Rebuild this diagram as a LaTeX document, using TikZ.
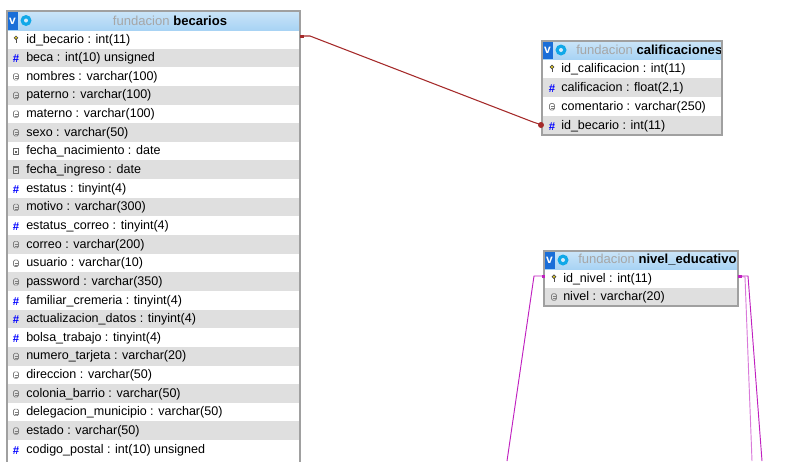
\documentclass[tikz,border=0pt]{standalone}
\usepackage{fontspec}
\setmainfont{Liberation Sans}
\begin{document}
\begin{tikzpicture}[x=0.75pt,y=-0.75pt,font=\fontsize{9.4}{10}\selectfont,
  rowtxt/.style={anchor=west,inner sep=0pt},
  htxt/.style={inner sep=0pt,font=\fontsize{9.8}{10}\selectfont},
  frame/.style={draw=framegray,line width=0.8pt}]
\definecolor{hdrblue}{HTML}{A8D3F4}
\definecolor{vblue}{HTML}{1A6ED8}
\definecolor{framegray}{HTML}{A0A0A0}
\definecolor{rowgray}{HTML}{DFDFDF}
\definecolor{rel}{HTML}{A52A2A}
\definecolor{mag}{HTML}{C020C0}
\useasboundingbox (0,0) rectangle (810,461);
\fill[white] (0,0) rectangle (810,461);
\newcommand{\keyicon}[2]{\draw[black!70,line width=0.5pt,fill=yellow!70!brown] (#1,#2-1.5) circle (1.8); \draw[black!70,line width=0.7pt] (#1,#2) -- (#1,#2+3.5);}
\newcommand{\numicon}[2]{\node[text=blue,inner sep=0pt,font=\fontsize{8.5}{8}\selectfont\bfseries] at (#1,#2+1) {\#};}
\newcommand{\txticon}[2]{\draw[gray,line width=0.5pt,rounded corners=1pt] (#1-2.5,#2-3) rectangle (#1+2.5,#2+3.5); \draw[gray,line width=0.4pt] (#1-1.5,#2) -- (#1+1.5,#2) (#1-1.5,#2+2) -- (#1+1.5,#2+2);}
\newcommand{\dateicon}[2]{\draw[gray!80!black,line width=0.5pt] (#1-2.5,#2-3) rectangle (#1+2.5,#2+3.5); \draw[gray!80!black,line width=0.9pt] (#1-2.5,#2-2.3) -- (#1+2.5,#2-2.3); \fill[gray!80!black] (#1-0.8,#2) rectangle (#1+0.8,#2+1.6);}
\newcommand{\rowicon}[3]{\if#1k\keyicon{#2}{#3}\fi\if#1n\numicon{#2}{#3}\fi\if#1t\txticon{#2}{#3}\fi\if#1d\dateicon{#2}{#3}\fi}
\newcommand{\hdrfill}[4]{%
  \shade[top color=hdrblue!60,bottom color=hdrblue] (#1,#2) rectangle (#3,#4);
  \fill[vblue] (#1,#2) rectangle (#1+11,#4);
  \node[text=white,font=\fontsize{9}{9}\selectfont\bfseries,inner sep=0pt] at (#1+5.5,#2/2+#4/2+0.5) {v};
  \fill[vblue!60!cyan] (#1+19,#2/2+#4/2) circle (5.5);
  \fill[hdrblue!50] (#1+19,#2/2+#4/2) circle (2);
}
% ---------- becarios
\def\rh{18.64}
\foreach \n/\ic [count=\i from 0] in {
 {id\_becario : int(11)}/k, {beca : int(10) unsigned}/n, {nombres : varchar(100)}/t, {paterno : varchar(100)}/t,
 {materno : varchar(100)}/t, {sexo : varchar(50)}/t, {fecha\_nacimiento : date}/d, {fecha\_ingreso : date}/d,
 {estatus : tinyint(4)}/n, {motivo : varchar(300)}/t, {estatus\_correo : tinyint(4)}/n, {correo : varchar(200)}/t,
 {usuario : varchar(10)}/t, {password : varchar(350)}/t, {familiar\_cremeria : tinyint(4)}/n,
 {actualizacion\_datos : tinyint(4)}/n, {bolsa\_trabajo : tinyint(4)}/n, {numero\_tarjeta : varchar(20)}/t,
 {direccion : varchar(50)}/t, {colonia\_barrio : varchar(50)}/t, {delegacion\_municipio : varchar(50)}/t,
 {estado : varchar(50)}/t, {codigo\_postal : int(10) unsigned}/n}{
  \pgfmathsetmacro\yt{30+\rh*\i}
  \pgfmathsetmacro\yc{\yt+\rh/2}
  \pgfmathparse{mod(\i,2)==1?1:0}
  \ifnum\pgfmathresult=1 \fill[rowgray] (7,\yt) rectangle (300,\yt+\rh); \fi
  \node[rowtxt] (b\i) at (26,\yc+0.5) {\n};
  \rowicon{\ic}{16}{\yc}
}
\hdrfill{7}{11}{300}{30}
\node[htxt] (bhead) at (170,20.5) {\textcolor{gray!70}{fundacion} \textbf{becarios}};
\draw[frame] (7,461.5) -- (7,11) -- (300,11) -- (300,461.5);
\coordinate (bfk) at (300,36);
% ---------- calificaciones
\foreach \n/\ic [count=\i from 0] in {{id\_calificacion : int(11)}/k, {calificacion : float(2,1)}/n, {comentario : varchar(250)}/t, {id\_becario : int(11)}/n}{
  \pgfmathsetmacro\yt{59+19*\i}
  \pgfmathsetmacro\yc{\yt+9.5}
  \pgfmathparse{mod(\i,2)==1?1:0}
  \ifnum\pgfmathresult=1 \fill[rowgray] (542,\yt) rectangle (722,\yt+19); \fi
  \node[rowtxt] (c\i) at (561,\yc+0.5) {\n};
  \rowicon{\ic}{552}{\yc}
}
\hdrfill{542}{41}{722}{59}
\node[htxt,anchor=west] (chead) at (576,50) {\textcolor{gray!70}{fundacion} \textbf{calificaciones}};
\draw[frame] (542,41) rectangle (722,135);
\coordinate (cfk) at (542,125);
% ---------- nivel_educativo
\foreach \n/\ic [count=\i from 0] in {{id\_nivel : int(11)}/k, {nivel : varchar(20)}/t}{
  \pgfmathsetmacro\yt{269+18.5*\i}
  \pgfmathsetmacro\yc{\yt+9.25}
  \pgfmathparse{mod(\i,2)==1?1:0}
  \ifnum\pgfmathresult=1 \fill[rowgray] (544,\yt) rectangle (738,\yt+18.5); \fi
  \node[rowtxt] (n\i) at (563,\yc+0.5) {\n};
  \rowicon{\ic}{554}{\yc}
}
\hdrfill{544}{251}{738}{269}
\node[htxt,anchor=west] (nhead) at (578,260) {\textcolor{gray!70}{fundacion} \textbf{nivel\_educativo}};
\draw[frame] (544,251) rectangle (738,306);
% ---------- relations
\coordinate (bk1) at (310,36);
\coordinate (ck1) at (533,122);
\draw[rel,line width=0.8pt] (bfk) -- (bk1) -- (ck1) -- (cfk);
\fill[rel] (300,34.5) rectangle (304,37.5);
\fill[rel] (541,125) circle (3);
\coordinate (nl) at (544,276);
\coordinate (nl1) at (534,276);
\coordinate (nle) at (507,461);
\draw[mag,line width=0.7pt] (nl) -- (nl1) -- (nle);
\fill[mag] (542,274.5) rectangle (545,277.5);
\coordinate (nr) at (738,276);
\coordinate (nr1) at (748,276);
\coordinate (nre1) at (762,461);
\coordinate (nre2) at (752,461);
\draw[mag,line width=0.7pt] (nr) -- (nr1) -- (nre1);
\draw[mag!60,line width=0.7pt] (nr) -- (745,277) -- (nre2);
\fill[mag] (738,274.5) rectangle (742,277.5);
\end{tikzpicture}
\end{document}
